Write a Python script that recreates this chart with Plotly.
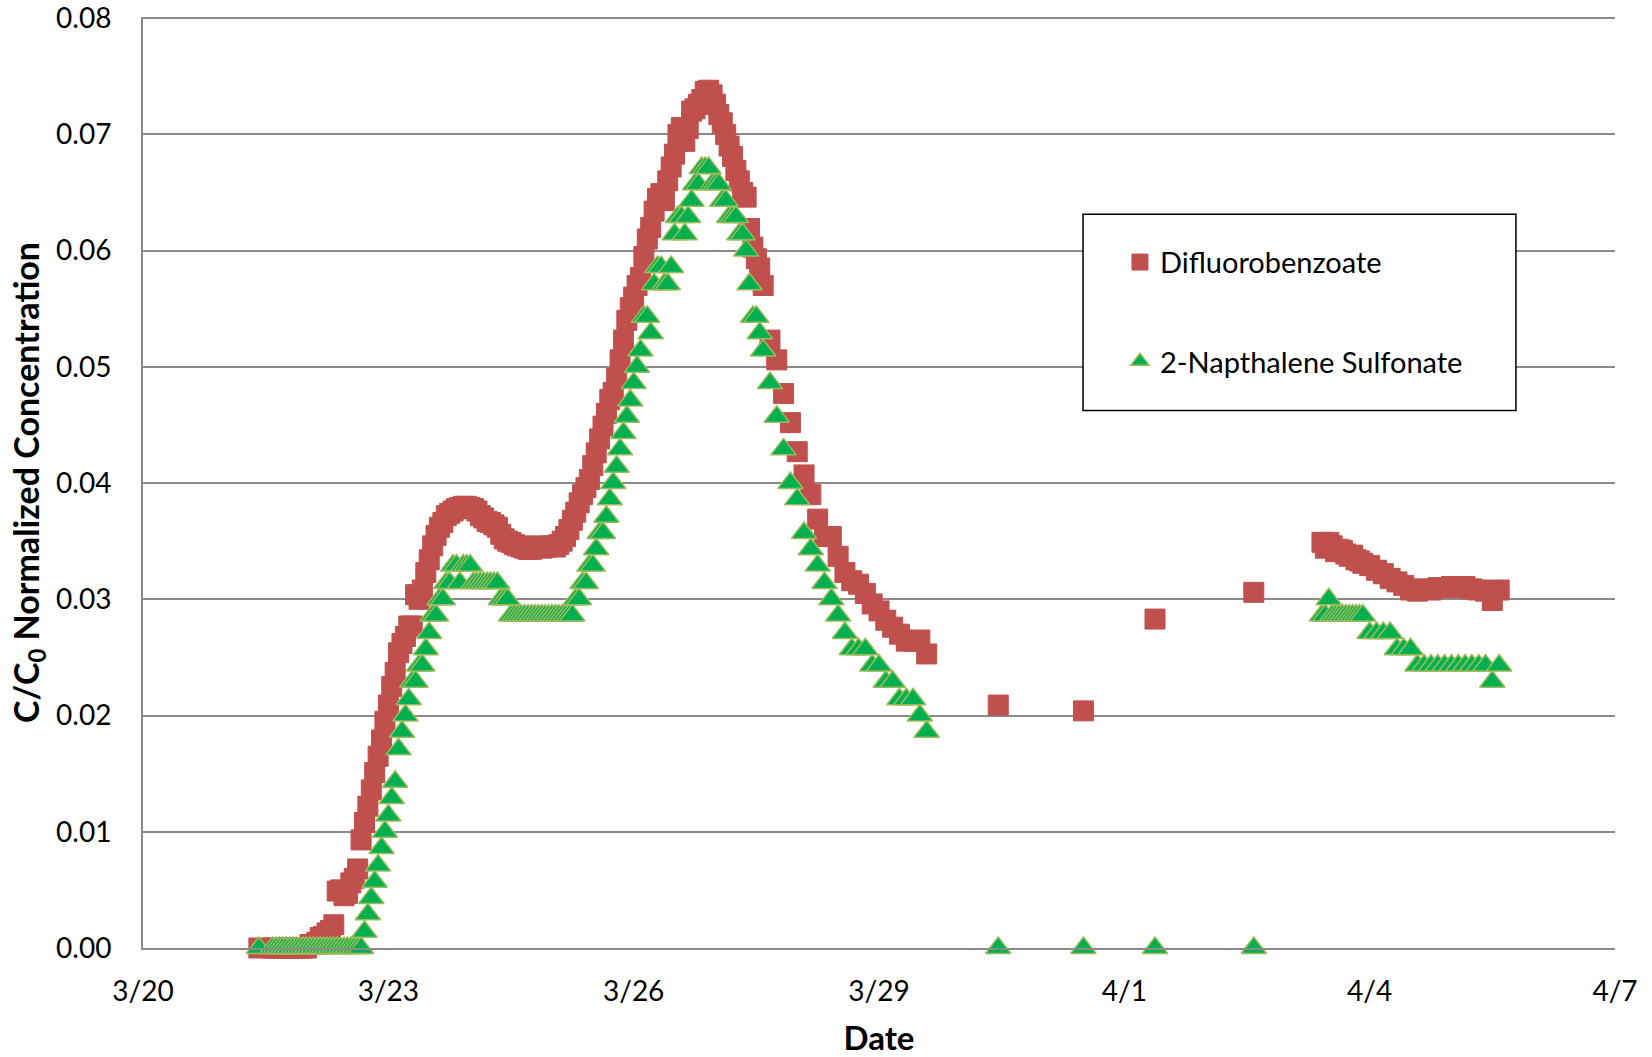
import pandas as pd
import plotly.graph_objects as go

# ---------------- sampling times ----------------
times_a = ["2011-03-21 10:00"]
times_b1 = pd.date_range("2011-03-21 14:00", "2011-03-27 14:00", freq="1h")
times_b2 = pd.date_range("2011-03-27 16:00", "2011-03-29 14:00", freq="2h")
times_c = ["2011-03-30 11:00", "2011-03-31 12:00", "2011-04-01 09:00", "2011-04-02 14:00"]
times_d1 = pd.date_range("2011-04-03 10:00", "2011-04-03 22:00", freq="1h")
times_d2 = pd.date_range("2011-04-04 00:00", "2011-04-05 14:00", freq="2h")

# ---------------- Difluorobenzoate (C/C0) ----------------
dfb_a = [0.0]
dfb_b1 = [
    0.0, 0.0, 0.0, 0.0, 0.0, 0.0, 0.0, 0.0, 0.0, 0.0, 0.0,
    0.0003, 0.0003, 0.0005, 0.0009, 0.0010, 0.0013, 0.0015, 0.0020, 0.0049, 0.0050,
    0.0045, 0.0047, 0.0056, 0.0060, 0.0068, 0.0093, 0.0108, 0.0122, 0.0136, 0.0151,
    0.0165, 0.0179, 0.0195, 0.0209, 0.0225, 0.0237, 0.0254, 0.0262, 0.0268, 0.0277,
    0.0277, 0.0304, 0.0300, 0.0308, 0.0323, 0.0334, 0.0346, 0.0355, 0.0362, 0.0366,
    0.0372, 0.0374, 0.0376, 0.0378, 0.0379, 0.0380, 0.0380, 0.0379, 0.0378, 0.0376,
    0.0372, 0.0370, 0.0367, 0.0366, 0.0364, 0.0362, 0.0356, 0.0352, 0.0350, 0.0349,
    0.0347, 0.0346, 0.0345, 0.0344, 0.0343, 0.0343, 0.0345, 0.0346, 0.0344, 0.0345,
    0.0345, 0.0346, 0.0345, 0.0347, 0.0350, 0.0354, 0.0360, 0.0368, 0.0375, 0.0383,
    0.0390, 0.0396, 0.0403, 0.0415, 0.0426, 0.0438, 0.0449, 0.0460, 0.0472, 0.0478,
    0.0490, 0.0506, 0.0523, 0.0540, 0.0551, 0.0560, 0.0570, 0.0577, 0.0595, 0.0610,
    0.0620, 0.0634, 0.0645, 0.0649, 0.0643, 0.0660, 0.0672, 0.0683, 0.0700, 0.0706,
    0.0694, 0.0705, 0.0720, 0.0722, 0.0726, 0.0730, 0.0737, 0.0738, 0.0734, 0.0726,
    0.0717, 0.0710, 0.0700, 0.0690, 0.0681, 0.0669, 0.0660, 0.0650, 0.0646, 0.0619,
    0.0603, 0.0593, 0.0585, 0.0570,
]
dfb_b2 = [
    0.0523, 0.0506, 0.0477, 0.0452, 0.0427, 0.0407, 0.0390, 0.0369, 0.0354, 0.0354,
    0.0337, 0.0323, 0.0316, 0.0313, 0.0305, 0.0296, 0.0290, 0.0282, 0.0276, 0.0270,
    0.0264, 0.0264, 0.0265, 0.0253,
]
dfb_c = [0.0209, 0.0204, 0.0283, 0.0306]
dfb_d1 = [0.0349, 0.0344, 0.0349, 0.0346, 0.0341, 0.0343, 0.0342, 0.0339, 0.0337,
          0.0338, 0.0334, 0.0333, 0.0331]
dfb_d2 = [0.0329, 0.0325, 0.0322, 0.0318, 0.0315, 0.0312, 0.0308, 0.0307, 0.0309, 0.0308,
          0.0310, 0.0310, 0.0311, 0.0310, 0.0311, 0.0309, 0.0308, 0.0307, 0.0299, 0.0308]

# ---------------- 2-Napthalene Sulfonate (C/C0) ----------------
nsa_a = [0.0]
nsa_b1 = [0.0] * 27 + [
    0.0014, 0.0029, 0.0043, 0.0057, 0.0071, 0.0086, 0.0100, 0.0114, 0.0129, 0.0143,
    0.0171, 0.0186, 0.0200, 0.0214, 0.0229, 0.0229, 0.0243, 0.0243, 0.0257, 0.0271,
    0.0286, 0.0286, 0.0300, 0.0300, 0.0314, 0.0314, 0.0329, 0.0329, 0.0314, 0.0329,
    0.0329, 0.0329, 0.0314, 0.0314, 0.0314, 0.0314, 0.0314, 0.0314, 0.0314, 0.0314,
    0.0300, 0.0300, 0.0300, 0.0286, 0.0286, 0.0286, 0.0286, 0.0286, 0.0286, 0.0286,
    0.0286, 0.0286, 0.0286, 0.0286, 0.0286, 0.0286, 0.0286, 0.0286, 0.0286, 0.0286,
    0.0286, 0.0286,
    0.0300, 0.0300, 0.0314, 0.0314, 0.0329, 0.0329, 0.0343, 0.0357, 0.0357, 0.0371,
    0.0386, 0.0400, 0.0414, 0.0429, 0.0443, 0.0457, 0.0471, 0.0486, 0.0500, 0.0514,
    0.0543, 0.0543, 0.0529, 0.0571, 0.0586, 0.0586, 0.0571, 0.0571, 0.0586, 0.0614,
    0.0629, 0.0629, 0.0614, 0.0629, 0.0643, 0.0657, 0.0657, 0.0671, 0.0671, 0.0671,
    0.0657, 0.0657, 0.0657, 0.0643, 0.0643, 0.0629, 0.0629, 0.0629, 0.0614, 0.0614,
    0.0600, 0.0571, 0.0543, 0.0543, 0.0529, 0.0514,
]
nsa_b2 = [
    0.0486, 0.0457, 0.0429, 0.0400, 0.0386, 0.0357, 0.0343, 0.0329, 0.0314, 0.0300,
    0.0286, 0.0271, 0.0257, 0.0257, 0.0257, 0.0243, 0.0243, 0.0229, 0.0229, 0.0214,
    0.0214, 0.0214, 0.0200, 0.0186,
]
nsa_c = [0.0, 0.0, 0.0, 0.0]
nsa_d1 = [0.0286, 0.0286, 0.0300, 0.0286, 0.0286, 0.0286, 0.0286, 0.0286, 0.0286,
          0.0286, 0.0286, 0.0286, 0.0286]
nsa_d2 = [0.0271, 0.0271, 0.0271, 0.0271, 0.0257, 0.0257, 0.0257, 0.0243, 0.0243, 0.0243,
          0.0243, 0.0243, 0.0243, 0.0243, 0.0243, 0.0243, 0.0243, 0.0243, 0.0229, 0.0243]

# ---------------- axis ticks ----------------
x_tick_start = "2011-03-20"
x_range = ["2011-03-20", "2011-04-07"]
y_ticks = [0.00, 0.01, 0.02, 0.03, 0.04, 0.05, 0.06, 0.07, 0.08]
y_tick_labels = ["0.00", "0.01", "0.02", "0.03", "0.04", "0.05", "0.06", "0.07", "0.08"]


def fmt(seq):
    return [pd.Timestamp(t).strftime("%Y-%m-%d %H:%M") for t in seq]


times = fmt(times_a) + fmt(times_b1) + fmt(times_b2) + fmt(times_c) + fmt(times_d1) + fmt(times_d2)
dfb = dfb_a + dfb_b1 + dfb_b2 + dfb_c + dfb_d1 + dfb_d2
nsa = nsa_a + nsa_b1 + nsa_b2 + nsa_c + nsa_d1 + nsa_d2

FONT = "Lato"
GRID = "#8a8a8a"

fig = go.Figure()
fig.add_trace(go.Scatter(
    x=times, y=dfb, mode="markers", name="Difluorobenzoate",
    marker=dict(symbol="square", size=20, color="#C0504D",
                line=dict(color="#C0504D", width=1)),
    cliponaxis=False, legend="legend",
))
fig.add_trace(go.Scatter(
    x=times, y=nsa, mode="markers", name="2-Napthalene Sulfonate",
    marker=dict(symbol="triangle-up", size=22, color="#00B050",
                line=dict(color="#9BBB59", width=1.5)),
    cliponaxis=False, legend="legend2",
))

fig.update_layout(
    width=1652, height=1057,
    margin=dict(l=143, r=37, t=17, b=109, pad=0),
    paper_bgcolor="white", plot_bgcolor="white",
    font=dict(family=FONT, color="black"),
    xaxis=dict(
        type="date", range=x_range, tick0=x_tick_start, dtick=3 * 86400000,
        tickformat="%-m/%-d", showgrid=False, zeroline=False, automargin=False,
        showline=True, linecolor=GRID, linewidth=2, ticks="",
        ticklabelstandoff=17, ticklabeloverflow="allow",
        tickfont=dict(family=FONT, size=28, color="black"),
        title=dict(text="Date", standoff=26,
                   font=dict(family=FONT, size=33, color="black", weight="bold")),
    ),
    yaxis=dict(
        range=[0, 0.0801], tickmode="array", tickvals=y_ticks, ticktext=y_tick_labels,
        showgrid=True, gridcolor=GRID, gridwidth=1.5, zeroline=False, automargin=False,
        showline=True, linecolor=GRID, linewidth=2, ticks="",
        ticklabelstandoff=24, ticklabeloverflow="allow",
        tickfont=dict(family=FONT, size=28, color="black"),
        title=dict(text="C/C<sub>0</sub> Normalized Concentration", standoff=6,
                   font=dict(family=FONT, size=34, color="black", weight="bold")),
    ),
    legend=dict(x=0.6637, xanchor="left", y=0.7366, yanchor="middle",
                bgcolor="rgba(0,0,0,0)", borderwidth=0,
                font=dict(family=FONT, size=29, color="black")),
    legend2=dict(x=0.6637, xanchor="left", y=0.6301, yanchor="middle",
                 bgcolor="rgba(0,0,0,0)", borderwidth=0,
                 font=dict(family=FONT, size=29, color="black")),
    shapes=[dict(type="rect", xref="paper", yref="paper",
                 x0=0.6386, x1=0.9327, y0=0.5774, y1=0.7882,
                 line=dict(color="black", width=1.5), fillcolor="white", layer="above")],
    showlegend=True,
)

fig.write_html("out.html", config={"displayModeBar": False},
               post_script="document.body.style.margin='0';document.body.style.overflow='hidden';")
